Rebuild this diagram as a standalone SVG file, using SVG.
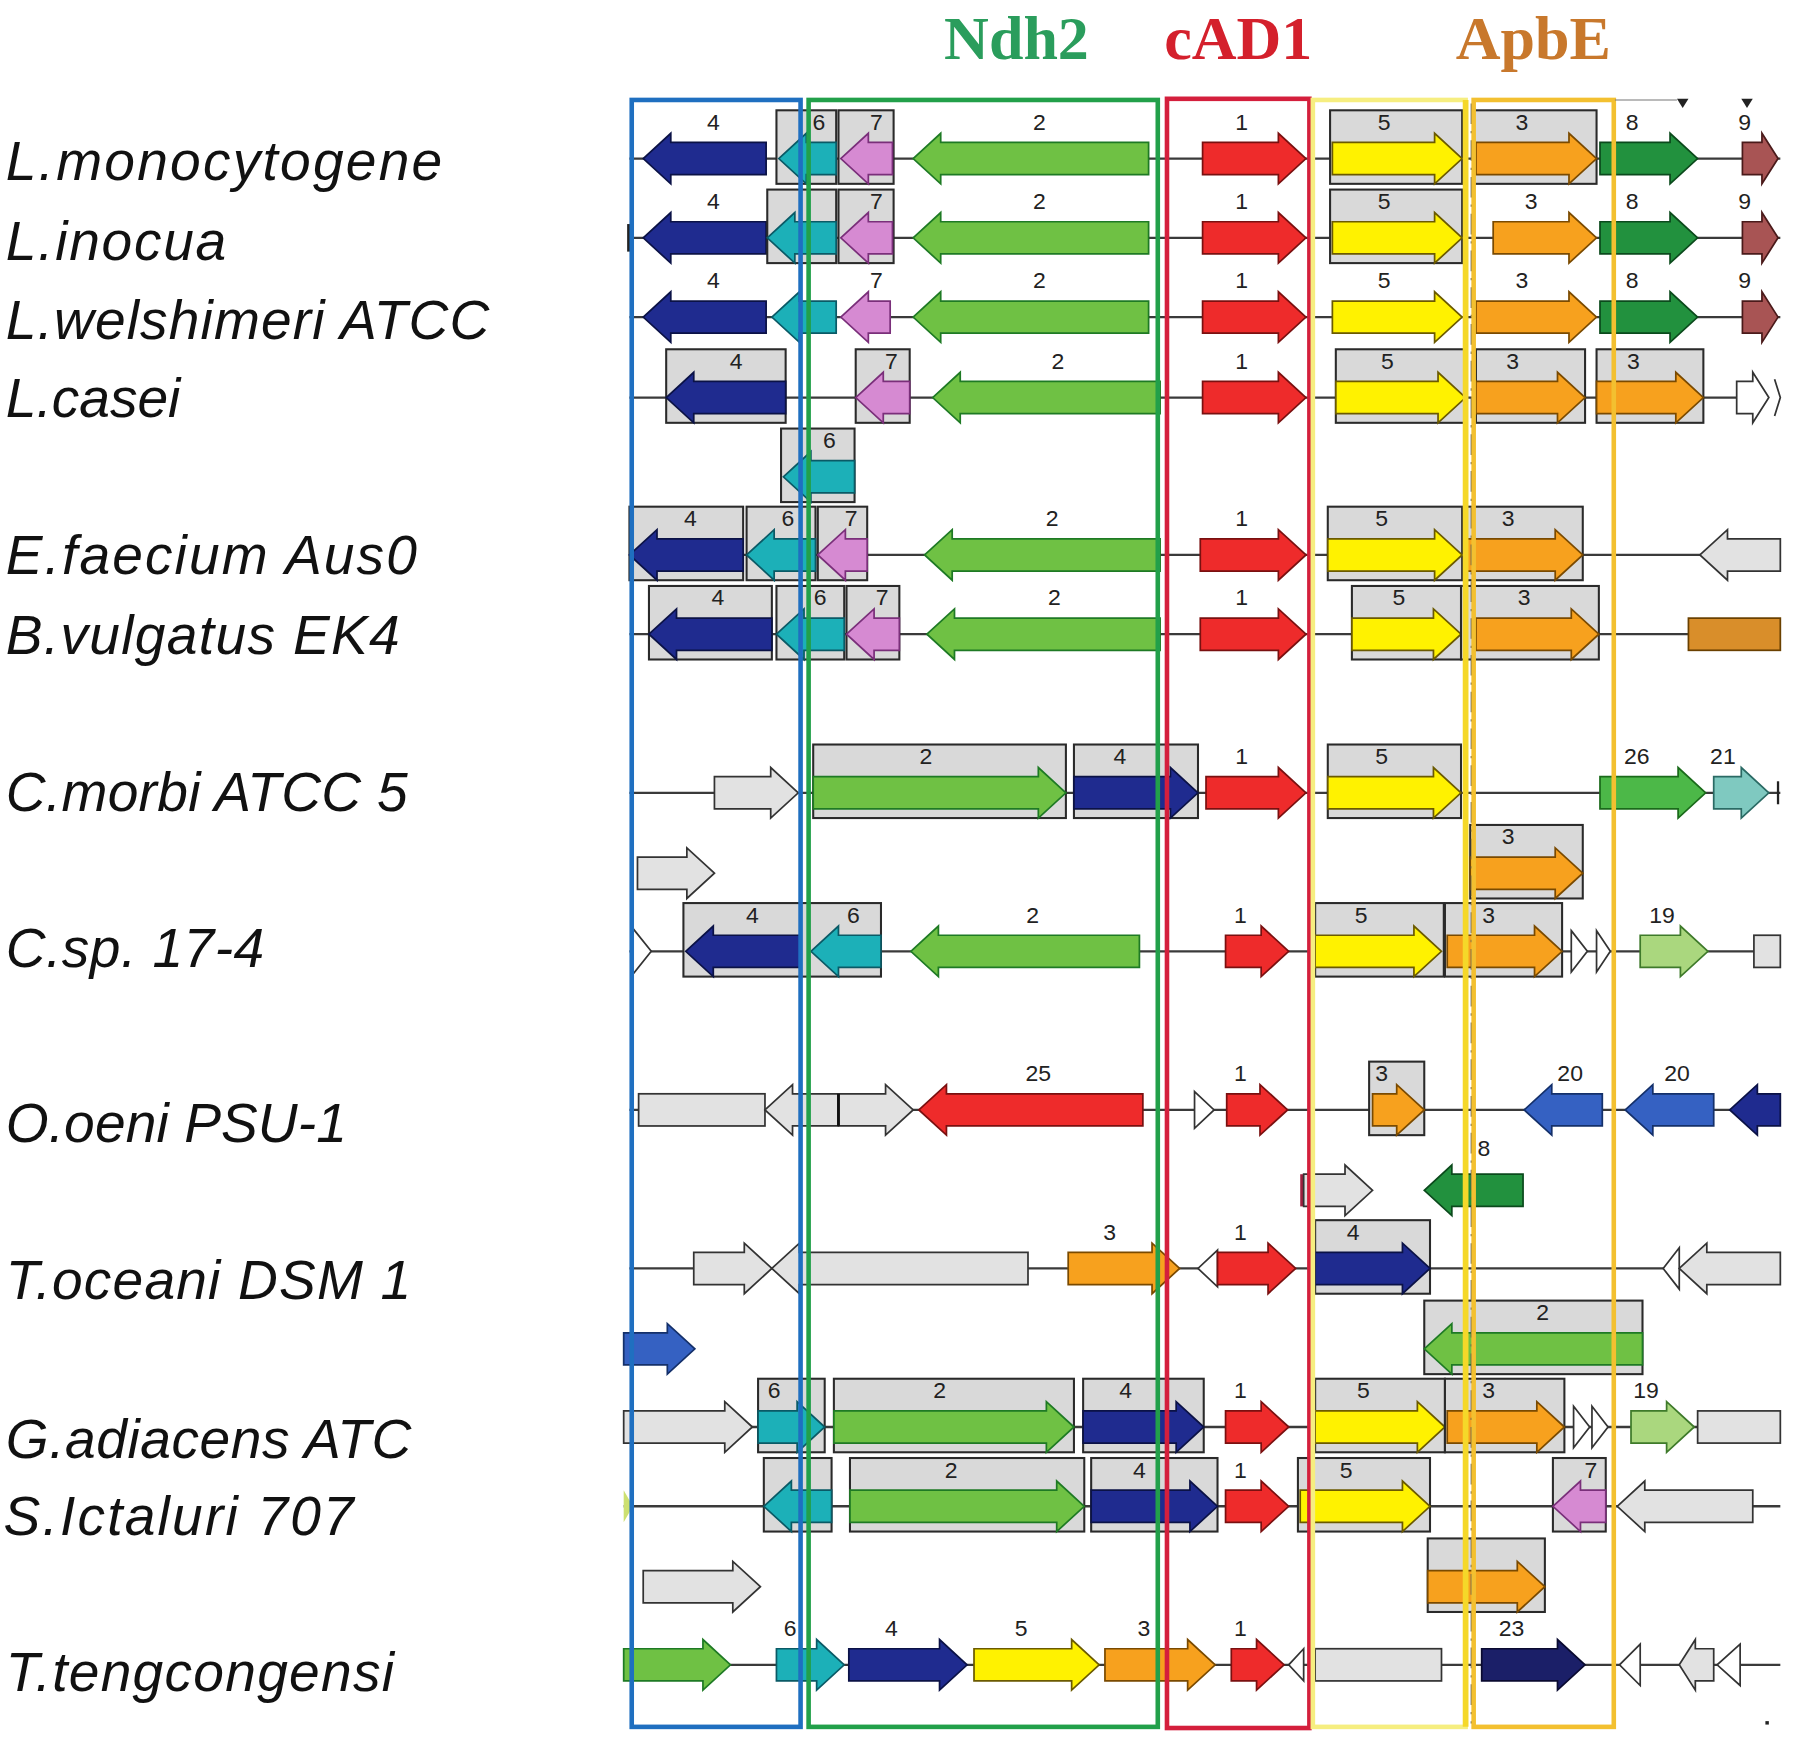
<svg xmlns="http://www.w3.org/2000/svg" width="1801" height="1751" viewBox="0 0 1801 1751">
<style>
.sp{font-family:"Liberation Sans",Arial,sans-serif;font-style:italic;font-size:48px;fill:#111}
.tt{font-family:"Liberation Serif","Times New Roman",serif;font-weight:bold;font-size:54px;text-anchor:middle}
.n{font-family:"Liberation Sans",Arial,sans-serif;font-size:20px;fill:#222;text-anchor:middle}
.bx{fill:#d9d9d9;stroke:#2a2a2a;stroke-width:1.8}
path,polygon{stroke-width:1.5;stroke-linejoin:miter}
.nv{fill:#1f2b8f;stroke:#0b1246}
.tl{fill:#1cb0b8;stroke:#0a5a66}
.pk{fill:#d68ad2;stroke:#7a2f7a}
.gr{fill:#6fc144;stroke:#1e7a24}
.rd{fill:#ee2b2b;stroke:#7a1010}
.ye{fill:#fff200;stroke:#6b5a00}
.or{fill:#f7a11e;stroke:#7a4a00}
.dg{fill:#22913e;stroke:#0b4a1c}
.br{fill:#a85454;stroke:#4a1a1a}
.gy{fill:#e2e2e2;stroke:#333;stroke-width:1.5}
.wh{fill:#fff;stroke:#333}
.bl{fill:#3561c2;stroke:#14306a}
.lg{fill:#aad77e;stroke:#3e7a2a}
.c26{fill:#4cb848;stroke:#1a6a1a}
.c21{fill:#7fc9c0;stroke:#2a6a64}
.ob{fill:#d98e2a;stroke:#6a4000;stroke-width:1.5}
.dn{fill:#1b1f68;stroke:#0a0a30}
.ln{stroke:#3a3a3a;stroke-width:2}
.col{fill:none;stroke-width:4}
</style>
<rect width="1801" height="1751" fill="#fff"/>
<g transform="scale(1.14860,1.14895)">
<g id="titles">
<text class="tt" x="885" y="51" fill="#2a9d5c">Ndh2</text>
<text class="tt" x="1078" y="51" fill="#d4202c">cAD1</text>
<text class="tt" x="1335" y="51" fill="#c8782c">ApbE</text>
</g>
<g id="species">
<text class="sp" x="5" y="157" textLength="380">L.monocytogene</text>
<text class="sp" x="5" y="226" textLength="192">L.inocua</text>
<text class="sp" x="5" y="295" textLength="421">L.welshimeri ATCC</text>
<text class="sp" x="5" y="363" textLength="152">L.casei</text>
<text class="sp" x="5" y="500" textLength="358">E.faecium Aus0</text>
<text class="sp" x="5" y="569" textLength="343">B.vulgatus EK4</text>
<text class="sp" x="5" y="706" textLength="350">C.morbi ATCC 5</text>
<text class="sp" x="5" y="842" textLength="225">C.sp. 17-4</text>
<text class="sp" x="5" y="994" textLength="297">O.oeni PSU-1</text>
<text class="sp" x="5" y="1131" textLength="353">T.oceani DSM 1</text>
<text class="sp" x="5" y="1269" textLength="353">G.adiacens ATC</text>
<text class="sp" x="3" y="1336" textLength="305">S.Ictaluri 707</text>
<text class="sp" x="5" y="1472" textLength="338">T.tengcongensi</text>
</g>
<g id="connectors">
<line class="ln" x1="548" y1="138" x2="1550" y2="138"/>
<line class="ln" x1="548" y1="207" x2="1550" y2="207"/>
<rect x="546" y="195" width="3" height="24" fill="#222"/>
<line class="ln" x1="548" y1="276" x2="1550" y2="276"/>
<line class="ln" x1="548" y1="346" x2="1512" y2="346"/>
<line class="ln" x1="548" y1="483" x2="1550" y2="483"/>
<line class="ln" x1="548" y1="552" x2="1550" y2="552"/>
<line class="ln" x1="548" y1="690" x2="1550" y2="690"/>
<rect x="1547" y="680" width="2" height="20" fill="#222"/>
<line class="ln" x1="548" y1="828" x2="1550" y2="828"/>
<line class="ln" x1="548" y1="966" x2="1550" y2="966"/>
<line class="ln" x1="548" y1="1104" x2="1550" y2="1104"/>
<line class="ln" x1="543" y1="1242" x2="1550" y2="1242"/>
<line class="ln" x1="543" y1="1311" x2="1550" y2="1311"/>
<line class="ln" x1="543" y1="1449" x2="1550" y2="1449"/>
</g>

<g id="row1" transform="translate(0,138)">
<g id="r1-4"><path class="nv" d="M560 0l24-22v8h83v28h-83v8z"/><text class="n" x="621" y="-25">4</text></g>
<g id="r1-6"><rect class="bx" x="676" y="-42" width="52" height="64"/><path class="tl" d="M678 0l24-22v8h26v28h-26v8z"/><text class="n" x="713" y="-25">6</text></g>
<g id="r1-7"><rect class="bx" x="730" y="-42" width="48" height="64"/><path class="pk" d="M732 0l24-22v8h21v28h-21v8z"/><text class="n" x="763" y="-25">7</text></g>
<g id="r1-2"><path class="gr" d="M795 0l24-22v8h181v28h-181v8z"/><text class="n" x="905" y="-25">2</text></g>
<g id="r1-1"><path class="rd" d="M1137 0l-24-22v8h-66v28h66v8z"/><text class="n" x="1081" y="-25">1</text></g>
<g id="r1-5"><rect class="bx" x="1158" y="-42" width="115" height="64"/><path class="ye" d="M1273 0l-24-22v8h-89v28h89v8z"/><text class="n" x="1205" y="-25">5</text></g>
<g id="r1-3"><rect class="bx" x="1283" y="-42" width="107" height="64"/><path class="or" d="M1390 0l-24-22v8h-81v28h81v8z"/><text class="n" x="1325" y="-25">3</text></g>
<g id="r1-8"><path class="dg" d="M1478 0l-24-22v8h-61v28h61v8z"/><text class="n" x="1421" y="-25">8</text></g>
<g id="r1-9"><path class="br" d="M1548 0l-14-22v8h-17v28h17v8z"/><text class="n" x="1519" y="-25">9</text></g>
</g>

<g id="row2" transform="translate(0,207)">
<g id="r2-4"><path class="nv" d="M560 0l24-22v8h83v28h-83v8z"/><text class="n" x="621" y="-25">4</text></g>
<g id="r2-6"><rect class="bx" x="668" y="-42" width="60" height="64"/><path class="tl" d="M668 0l24-22v8h36v28h-36v8z"/></g>
<g id="r2-7"><rect class="bx" x="730" y="-42" width="48" height="64"/><path class="pk" d="M732 0l24-22v8h21v28h-21v8z"/><text class="n" x="763" y="-25">7</text></g>
<g id="r2-2"><path class="gr" d="M795 0l24-22v8h181v28h-181v8z"/><text class="n" x="905" y="-25">2</text></g>
<g id="r2-1"><path class="rd" d="M1137 0l-24-22v8h-66v28h66v8z"/><text class="n" x="1081" y="-25">1</text></g>
<g id="r2-5"><rect class="bx" x="1158" y="-42" width="115" height="64"/><path class="ye" d="M1273 0l-24-22v8h-89v28h89v8z"/><text class="n" x="1205" y="-25">5</text></g>
<g id="r2-3"><path class="or" d="M1390 0l-24-22v8h-66v28h66v8z"/><text class="n" x="1333" y="-25">3</text></g>
<g id="r2-8"><path class="dg" d="M1478 0l-24-22v8h-61v28h61v8z"/><text class="n" x="1421" y="-25">8</text></g>
<g id="r2-9"><path class="br" d="M1548 0l-14-22v8h-17v28h17v8z"/><text class="n" x="1519" y="-25">9</text></g>
</g>

<g id="row3" transform="translate(0,276)">
<g id="r3-4"><path class="nv" d="M560 0l24-22v8h83v28h-83v8z"/><text class="n" x="621" y="-25">4</text></g>
<g id="r3-6"><path class="tl" d="M672 0l24-22v8h32v28h-32v8z"/></g>
<g id="r3-7"><path class="pk" d="M732 0l24-22v8h19v28h-19v8z"/><text class="n" x="763" y="-25">7</text></g>
<g id="r3-2"><path class="gr" d="M795 0l24-22v8h181v28h-181v8z"/><text class="n" x="905" y="-25">2</text></g>
<g id="r3-1"><path class="rd" d="M1137 0l-24-22v8h-66v28h66v8z"/><text class="n" x="1081" y="-25">1</text></g>
<g id="r3-5"><path class="ye" d="M1273 0l-24-22v8h-89v28h89v8z"/><text class="n" x="1205" y="-25">5</text></g>
<g id="r3-3"><path class="or" d="M1390 0l-24-22v8h-81v28h81v8z"/><text class="n" x="1325" y="-25">3</text></g>
<g id="r3-8"><path class="dg" d="M1478 0l-24-22v8h-61v28h61v8z"/><text class="n" x="1421" y="-25">8</text></g>
<g id="r3-9"><path class="br" d="M1548 0l-14-22v8h-17v28h17v8z"/><text class="n" x="1519" y="-25">9</text></g>
</g>

<g id="row4" transform="translate(0,346)">
<g id="r4-4"><rect class="bx" x="580" y="-42" width="104" height="64"/><path class="nv" d="M580 0l24-22v8h80v28h-80v8z"/><text class="n" x="641" y="-25">4</text></g>
<g id="r4-7"><rect class="bx" x="745" y="-42" width="47" height="64"/><path class="pk" d="M745 0l24-22v8h23v28h-23v8z"/><text class="n" x="776" y="-25">7</text></g>
<g id="r4-2"><path class="gr" d="M812 0l24-22v8h174v28h-174v8z"/><text class="n" x="921" y="-25">2</text></g>
<g id="r4-1"><path class="rd" d="M1137 0l-24-22v8h-66v28h66v8z"/><text class="n" x="1081" y="-25">1</text></g>
<g id="r4-5"><rect class="bx" x="1163" y="-42" width="113" height="64"/><path class="ye" d="M1276 0l-24-22v8h-89v28h89v8z"/><text class="n" x="1208" y="-25">5</text></g>
<g id="r4-3a"><rect class="bx" x="1285" y="-42" width="95" height="64"/><path class="or" d="M1380 0l-24-22v8h-71v28h71v8z"/><text class="n" x="1317" y="-25">3</text></g>
<g id="r4-3b"><rect class="bx" x="1390" y="-42" width="93" height="64"/><path class="or" d="M1483 0l-24-22v8h-69v28h69v8z"/><text class="n" x="1422" y="-25">3</text></g>
<g id="r4-x"><path class="wh" d="M1540 0l-14-22v8h-14v28h14v8z"/><path class="wh" d="M1545 -16l5 16l-5 16"/></g>
</g>

<g id="row4b" transform="translate(0,415)">
<g id="r4b-6"><rect class="bx" x="680" y="-42" width="64" height="64"/><path class="tl" d="M682 0l24-22v8h38v28h-38v8z"/><text class="n" x="722" y="-25">6</text></g>
</g>

<g id="row5" transform="translate(0,483)">
<g id="r5-4"><rect class="bx" x="548" y="-42" width="99" height="64"/><path class="nv" d="M548 0l24-22v8h75v28h-75v8z"/><text class="n" x="601" y="-25">4</text></g>
<g id="r5-6"><rect class="bx" x="650" y="-42" width="60" height="64"/><path class="tl" d="M650 0l24-22v8h36v28h-36v8z"/><text class="n" x="686" y="-25">6</text></g>
<g id="r5-7"><rect class="bx" x="712" y="-42" width="43" height="64"/><path class="pk" d="M712 0l24-22v8h19v28h-19v8z"/><text class="n" x="741" y="-25">7</text></g>
<g id="r5-2"><path class="gr" d="M805 0l24-22v8h181v28h-181v8z"/><text class="n" x="916" y="-25">2</text></g>
<g id="r5-1"><path class="rd" d="M1137 0l-24-22v8h-68v28h68v8z"/><text class="n" x="1081" y="-25">1</text></g>
<g id="r5-5"><rect class="bx" x="1156" y="-42" width="117" height="64"/><path class="ye" d="M1273 0l-24-22v8h-93v28h93v8z"/><text class="n" x="1203" y="-25">5</text></g>
<g id="r5-3"><rect class="bx" x="1276" y="-42" width="102" height="64"/><path class="or" d="M1378 0l-24-22v8h-78v28h78v8z"/><text class="n" x="1313" y="-25">3</text></g>
<g id="r5-x"><path class="gy" d="M1480 0l24-22v8h46v28h-46v8z"/></g>
</g>

<g id="row6" transform="translate(0,552)">
<g id="r6-4"><rect class="bx" x="565" y="-42" width="107" height="64"/><path class="nv" d="M565 0l24-22v8h83v28h-83v8z"/><text class="n" x="625" y="-25">4</text></g>
<g id="r6-6"><rect class="bx" x="676" y="-42" width="59" height="64"/><path class="tl" d="M676 0l24-22v8h35v28h-35v8z"/><text class="n" x="714" y="-25">6</text></g>
<g id="r6-7"><rect class="bx" x="737" y="-42" width="46" height="64"/><path class="pk" d="M737 0l24-22v8h22v28h-22v8z"/><text class="n" x="768" y="-25">7</text></g>
<g id="r6-2"><path class="gr" d="M807 0l24-22v8h179v28h-179v8z"/><text class="n" x="918" y="-25">2</text></g>
<g id="r6-1"><path class="rd" d="M1137 0l-24-22v8h-68v28h68v8z"/><text class="n" x="1081" y="-25">1</text></g>
<g id="r6-5"><rect class="bx" x="1177" y="-42" width="95" height="64"/><path class="ye" d="M1272 0l-24-22v8h-71v28h71v8z"/><text class="n" x="1218" y="-25">5</text></g>
<g id="r6-3"><rect class="bx" x="1272" y="-42" width="120" height="64"/><path class="or" d="M1392 0l-24-22v8h-83v28h83v8z"/><text class="n" x="1327" y="-25">3</text></g>
<g id="r6-x"><rect class="ob" x="1470" y="-14" width="80" height="28"/></g>
</g>

<g id="row7" transform="translate(0,690)">
<g id="r7-x"><path class="gy" d="M695 0l-24-22v8h-49v28h49v8z"/></g>
<g id="r7-2"><rect class="bx" x="708" y="-42" width="220" height="64"/><path class="gr" d="M928 0l-24-22v8h-196v28h196v8z"/><text class="n" x="806" y="-25">2</text></g>
<g id="r7-4"><rect class="bx" x="935" y="-42" width="108" height="64"/><path class="nv" d="M1043 0l-24-22v8h-84v28h84v8z"/><text class="n" x="975" y="-25">4</text></g>
<g id="r7-1"><path class="rd" d="M1137 0l-24-22v8h-63v28h63v8z"/><text class="n" x="1081" y="-25">1</text></g>
<g id="r7-5"><rect class="bx" x="1156" y="-42" width="116" height="64"/><path class="ye" d="M1272 0l-24-22v8h-92v28h92v8z"/><text class="n" x="1203" y="-25">5</text></g>
<g id="r7-26"><path class="c26" d="M1485 0l-24-22v8h-68v28h68v8z"/><text class="n" x="1425" y="-25">26</text></g>
<g id="r7-21"><path class="c21" d="M1540 0l-24-22v8h-24v28h24v8z"/><text class="n" x="1500" y="-25">21</text></g>
</g>

<g id="row7b" transform="translate(0,760)">
<g id="r7b-x"><path class="gy" d="M622 0l-24-22v8h-43v28h43v8z"/></g>
<g id="r7b-3"><rect class="bx" x="1280" y="-42" width="98" height="64"/><path class="or" d="M1378 0l-24-22v8h-74v28h74v8z"/><text class="n" x="1313" y="-25">3</text></g>
</g>

<g id="row8" transform="translate(0,828)">
<g id="r8-x"><polygon class="wh" points="551,-20 567,0 551,20"/></g>
<g id="r8-4"><rect class="bx" x="595" y="-42" width="102" height="64"/><path class="nv" d="M597 0l24-22v8h76v28h-76v8z"/><text class="n" x="655" y="-25">4</text></g>
<g id="r8-6"><rect class="bx" x="697" y="-42" width="70" height="64"/><path class="tl" d="M706 0l24-22v8h37v28h-37v8z"/><text class="n" x="743" y="-25">6</text></g>
<g id="r8-2"><path class="gr" d="M793 0l24-22v8h175v28h-175v8z"/><text class="n" x="899" y="-25">2</text></g>
<g id="r8-1"><path class="rd" d="M1122 0l-24-22v8h-31v28h31v8z"/><text class="n" x="1080" y="-25">1</text></g>
<g id="r8-5"><rect class="bx" x="1145" y="-42" width="112" height="64"/><path class="ye" d="M1255 0l-24-22v8h-86v28h86v8z"/><text class="n" x="1185" y="-25">5</text></g>
<g id="r8-3"><rect class="bx" x="1258" y="-42" width="102" height="64"/><path class="or" d="M1360 0l-24-22v8h-76v28h76v8z"/><text class="n" x="1296" y="-25">3</text></g>
<g id="r8-ch"><polygon class="wh" points="1368,-18 1382,0 1368,18"/><polygon class="wh" points="1390,-18 1402,0 1390,18"/></g>
<g id="r8-19"><path class="lg" d="M1487 0l-24-22v8h-35v28h35v8z"/><text class="n" x="1447" y="-25">19</text></g>
<g id="r8-y"><rect class="gy" x="1527" y="-14" width="23" height="28"/></g>
</g>

<g id="row9" transform="translate(0,966)">
<g id="r9-a"><rect class="gy" x="556" y="-14" width="110" height="28"/></g>
<g id="r9-b"><path class="gy" d="M666 0l24-22v8h40v28h-40v8z"/></g>
<g id="r9-c"><path class="gy" d="M795 0l-24-22v8h-41v28h41v8z"/><line x1="730" y1="-14" x2="730" y2="14" stroke="#111" stroke-width="2.5"/></g>
<g id="r9-25"><path class="rd" d="M800 0l24-22v8h171v28h-171v8z"/><text class="n" x="904" y="-25">25</text></g>
<g id="r9-x"><polygon class="wh" points="1040,-16 1057,0 1040,16"/></g>
<g id="r9-1"><path class="rd" d="M1121 0l-24-22v8h-29v28h29v8z"/><text class="n" x="1080" y="-25">1</text></g>
<g id="r9-3"><rect class="bx" x="1192" y="-42" width="48" height="64"/><path class="or" d="M1240 0l-24-22v8h-21v28h21v8z"/><text class="n" x="1203" y="-25">3</text></g>
<g id="r9-20a"><path class="bl" d="M1327 0l24-22v8h44v28h-44v8z"/><text class="n" x="1367" y="-25">20</text></g>
<g id="r9-20b"><path class="bl" d="M1415 0l24-22v8h53v28h-53v8z"/><text class="n" x="1460" y="-25">20</text></g>
<g id="r9-y"><path class="nv" d="M1506 0l24-22v8h20v28h-20v8z"/></g>
</g>

<g id="row9b" transform="translate(0,1036)">
<g id="r9b-x"><rect x="1132" y="-14" width="3" height="28" fill="#a02040"/><path class="gy" d="M1195 0l-24-22v8h-36v28h36v8z"/></g>
<g id="r9b-8"><path class="dg" d="M1240 0l24-22v8h62v28h-62v8z"/><text class="n" x="1292" y="-30">8</text></g>
</g>

<g id="row10" transform="translate(0,1104)">
<g id="r10-a"><path class="gy" d="M672 0l-24-22v8h-44v28h44v8z"/></g>
<g id="r10-b"><path class="gy" d="M672 0l24-22v8h199v28h-199v8z"/></g>
<g id="r10-3"><path class="or" d="M1027 0l-24-22v8h-73v28h73v8z"/><text class="n" x="966" y="-25">3</text></g>
<g id="r10-x"><polygon class="wh" points="1060,-16 1043,0 1060,16"/></g>
<g id="r10-1"><path class="rd" d="M1128 0l-24-22v8h-44v28h44v8z"/><text class="n" x="1080" y="-25">1</text></g>
<g id="r10-4"><rect class="bx" x="1145" y="-42" width="100" height="64"/><path class="nv" d="M1245 0l-24-22v8h-76v28h76v8z"/><text class="n" x="1178" y="-25">4</text></g>
<g id="r10-y"><polygon class="wh" points="1462,-18 1448,0 1462,18"/></g>
<g id="r10-z"><path class="gy" d="M1462 0l24-22v8h64v28h-64v8z"/></g>
</g>

<g id="row10b" transform="translate(0,1174)">
<g id="r10b-x"><path class="bl" d="M605 0l-24-22v8h-38v28h38v8z"/></g>
<g id="r10b-2"><rect class="bx" x="1240" y="-42" width="190" height="64"/><path class="gr" d="M1240 0l24-22v8h166v28h-166v8z"/><text class="n" x="1343" y="-25">2</text></g>
</g>

<g id="row11" transform="translate(0,1242)">
<g id="r11-x"><path class="gy" d="M655 0l-24-22v8h-88v28h88v8z"/></g>
<g id="r11-6"><rect class="bx" x="660" y="-42" width="58" height="64"/><path class="tl" d="M718 0l-24-22v8h-34v28h34v8z"/><text class="n" x="674" y="-25">6</text></g>
<g id="r11-2"><rect class="bx" x="726" y="-42" width="209" height="64"/><path class="gr" d="M935 0l-24-22v8h-185v28h185v8z"/><text class="n" x="818" y="-25">2</text></g>
<g id="r11-4"><rect class="bx" x="943" y="-42" width="105" height="64"/><path class="nv" d="M1048 0l-24-22v8h-81v28h81v8z"/><text class="n" x="980" y="-25">4</text></g>
<g id="r11-1"><path class="rd" d="M1122 0l-24-22v8h-31v28h31v8z"/><text class="n" x="1080" y="-25">1</text></g>
<g id="r11-5"><rect class="bx" x="1145" y="-42" width="113" height="64"/><path class="ye" d="M1258 0l-24-22v8h-89v28h89v8z"/><text class="n" x="1187" y="-25">5</text></g>
<g id="r11-3"><rect class="bx" x="1258" y="-42" width="104" height="64"/><path class="or" d="M1362 0l-24-22v8h-78v28h78v8z"/><text class="n" x="1296" y="-25">3</text></g>
<g id="r11-ch"><polygon class="wh" points="1370,-18 1384,0 1370,18"/><polygon class="wh" points="1386,-18 1400,0 1386,18"/></g>
<g id="r11-19"><path class="lg" d="M1475 0l-24-22v8h-31v28h31v8z"/><text class="n" x="1433" y="-25">19</text></g>
<g id="r11-y"><rect class="gy" x="1478" y="-14" width="72" height="28"/></g>
</g>

<g id="row12" transform="translate(0,1311)">
<g id="r12-x"><polygon points="543,-14 551,0 543,14" fill="#cde070"/></g>
<g id="r12-6"><rect class="bx" x="665" y="-42" width="59" height="64"/><path class="tl" d="M665 0l24-22v8h35v28h-35v8z"/></g>
<g id="r12-2"><rect class="bx" x="740" y="-42" width="204" height="64"/><path class="gr" d="M944 0l-24-22v8h-180v28h180v8z"/><text class="n" x="828" y="-25">2</text></g>
<g id="r12-4"><rect class="bx" x="950" y="-42" width="110" height="64"/><path class="nv" d="M1060 0l-24-22v8h-86v28h86v8z"/><text class="n" x="992" y="-25">4</text></g>
<g id="r12-1"><path class="rd" d="M1122 0l-24-22v8h-31v28h31v8z"/><text class="n" x="1080" y="-25">1</text></g>
<g id="r12-5"><rect class="bx" x="1130" y="-42" width="115" height="64"/><path class="ye" d="M1245 0l-24-22v8h-89v28h89v8z"/><text class="n" x="1172" y="-25">5</text></g>
<g id="r12-7"><rect class="bx" x="1352" y="-42" width="46" height="64"/><path class="pk" d="M1352 0l24-22v8h22v28h-22v8z"/><text class="n" x="1385" y="-25">7</text></g>
<g id="r12-y"><path class="gy" d="M1408 0l24-22v8h94v28h-94v8z"/></g>
</g>

<g id="row12b" transform="translate(0,1381)">
<g id="r12b-x"><path class="gy" d="M662 0l-24-22v8h-78v28h78v8z"/></g>
<g id="r12b-3"><rect class="bx" x="1243" y="-42" width="102" height="64"/><path class="or" d="M1345 0l-24-22v8h-78v28h78v8z"/></g>
</g>

<g id="row13" transform="translate(0,1449)">
<g id="r13-x"><path class="gr" d="M636 0l-24-22v8h-69v28h69v8z"/></g>
<g id="r13-6"><path class="tl" d="M735 0l-24-22v8h-35v28h35v8z"/><text class="n" x="688" y="-25">6</text></g>
<g id="r13-4"><path class="nv" d="M842 0l-24-22v8h-79v28h79v8z"/><text class="n" x="776" y="-25">4</text></g>
<g id="r13-5"><path class="ye" d="M957 0l-24-22v8h-85v28h85v8z"/><text class="n" x="889" y="-25">5</text></g>
<g id="r13-3"><path class="or" d="M1058 0l-24-22v8h-72v28h72v8z"/><text class="n" x="996" y="-25">3</text></g>
<g id="r13-1"><path class="rd" d="M1118 0l-24-22v8h-22v28h22v8z"/><text class="n" x="1080" y="-25">1</text></g>
<g id="r13-y"><polygon class="wh" points="1135,-14 1122,0 1135,14"/></g>
<g id="r13-z"><rect class="gy" x="1145" y="-14" width="110" height="28"/></g>
<g id="r13-23"><path class="dn" d="M1380 0l-24-22v8h-66v28h66v8z"/><text class="n" x="1316" y="-25">23</text></g>
<g id="r13-w1"><polygon class="wh" points="1428,-18 1410,0 1428,18"/></g>
<g id="r13-w2"><path class="gy" d="M1462 0l14-22v8h16v28h-16v8z"/></g>
<g id="r13-w3"><polygon class="wh" points="1515,-18 1495,0 1515,18"/></g>
</g>

<g id="columns">
<line x1="1281" y1="90" x2="1281" y2="1500" stroke="#555" stroke-width="1.2" stroke-dasharray="18 6 2 6"/>
<rect id="col-blue" class="col" x="550" y="87" width="147" height="1416" stroke="#1f6fc0"/>
<rect id="col-ndh2" class="col" x="704" y="87" width="304" height="1416" stroke="#22a04a"/>
<rect id="col-cad1" class="col" x="1016" y="86" width="124" height="1418" stroke="#d41f3c" stroke-width="4.5"/>
<rect id="col-yellow" class="col" x="1143" y="87" width="133" height="1416" stroke="#f6ee80"/>
<line x1="1276" y1="87" x2="1276" y2="1503" stroke="#f5d829" stroke-width="5"/>
<rect id="col-apbe" class="col" x="1283" y="87" width="122" height="1416" stroke="#f3c030"/>
<line x1="1406" y1="87" x2="1460" y2="87" stroke="#777" stroke-width="1"/>
<polygon points="1460,86 1470,86 1465,94" fill="#222"/>
<polygon points="1516,86 1526,86 1521,94" fill="#222"/>
<rect x="1537" y="1498" width="3" height="3" fill="#222"/>
</g>
</g>
</svg>
